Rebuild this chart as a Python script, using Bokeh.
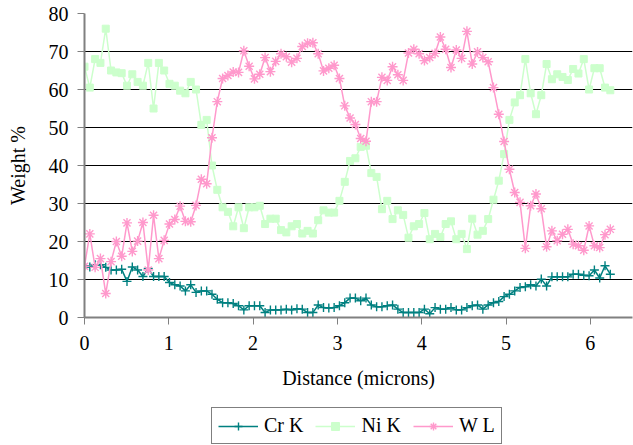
from bokeh.plotting import figure
from bokeh.models import Range1d, FixedTicker, Legend, LegendItem
from bokeh.layouts import column
from bokeh.embed import file_html
from bokeh.resources import INLINE

step = 0.063
n_points = 100
distance = [round(i * step, 3) for i in range(n_points)]

cr_k = [13.6, 13.3, 13.9, 13.9, 13.2, 12.5, 12.5, 12.7, 9.5, 13.3, 12.5, 10.8, 12.9, 10.8, 10.8, 10.8, 9.2, 8.6, 8.3, 7.0, 8.6,
        6.6, 7.0, 7.0, 6.1, 4.8, 3.9, 3.9, 3.7, 3.1, 2.0, 3.1, 3.1, 3.1, 1.3, 2.0, 2.0, 2.0, 2.2, 2.0, 2.3,
        2.2, 1.3, 1.3, 3.3, 2.6, 2.5, 2.6, 3.1, 3.9, 5.1, 5.1, 4.4, 5.1, 3.3, 2.8, 2.8, 3.1, 3.3, 2.2, 1.3,
        1.3, 1.3, 1.3, 2.2, 1.0, 2.6, 2.2, 2.2, 2.6, 2.0, 2.0, 2.6, 3.1, 3.3, 2.2, 3.3, 3.9, 4.2, 5.5, 6.1,
        7.0, 7.9, 8.1, 8.6, 8.3, 10.1, 8.3, 10.7, 10.7, 10.7, 10.7, 11.4, 11.4, 11.1, 11.0, 12.5, 10.4, 13.6, 11.4]

ni_k = [66, 60.5, 68, 67, 76, 65, 64.5, 64.3, 61, 64, 62, 61, 67, 55, 67, 65, 61.5, 61, 59.7, 59, 62,
        60, 50.7, 52, 40, 33.6, 29, 27.8, 24, 29, 23.5, 29, 29, 29.4, 24.6, 26, 26, 23, 22.4, 24, 24.6,
        22.1, 22.8, 22.1, 25.6, 28.2, 27.6, 27.6, 30.7, 35.7, 41.2, 41.9, 44.9, 45.2, 38, 37, 28.5, 30.7, 25.9, 28.2, 27,
        21, 24, 24.6, 27.5, 20.6, 22, 21.2, 24.6, 25.3, 20.6, 22, 18, 26, 21.8, 22.8, 25.9, 31, 36, 43, 52,
        56.6, 58.5, 68, 59, 53.5, 58.5, 66.7, 62.7, 64, 63.3, 62.5, 65.4, 64.2, 68, 60, 65.6, 65.6, 60.5, 59.8]

w_l = [13.5, 22, 13.2, 15.5, 6.3, 14.7, 20, 16.1, 24.9, 17.4, 20.1, 25, 12.5, 26.9, 15.5, 20.3, 24.6, 25.8, 29.3, 25.3, 25.2,
       29.5, 36.4, 35.2, 47.3, 56.8, 62.9, 63.7, 64.6, 64.5, 70.2, 66.1, 62.8, 64, 68.4, 64.7, 67.4, 69.4, 68.6, 67.2, 68.2,
       71.3, 72.2, 72.3, 69.4, 64.9, 65.6, 66.4, 62.9, 55.7, 52.5, 50.8, 47.1, 46.4, 56.8, 56.8, 63.2, 62.4, 66, 63.9, 62.4,
       69.6, 70.6, 69.4, 67.6, 68.4, 69.5, 73.8, 70.6, 65.8, 70.4, 68.2, 75.3, 66.7, 69.9, 68.4, 67.3, 60.5, 53.5, 46.3, 39,
       32.9, 30.3, 18.2, 29.4, 32.5, 28.6, 18.6, 22.8, 20.2, 21.9, 23.2, 19.3, 18.9, 17.7, 24.1, 18.9, 18.4, 21.8, 23.2]

series_names = ["Cr K", "Ni K", "W L"]
x_ticks = [0, 1, 2, 3, 4, 5, 6]
y_ticks = [0, 10, 20, 30, 40, 50, 60, 70, 80]

FONT = "Liberation Serif"
FS = "20px"
cr_col, ni_col, w_col = "#008080", "#CCFFCC", "#FF99CC"
series = [(cr_k, cr_col, "cross", 9), (ni_k, ni_col, "square", 7), (w_l, w_col, "asterisk", 10)]


def draw(fig, xs, ys, color, marker, size):
    ln = fig.line(xs, ys, line_color=color, line_width=1.5)
    if marker == "square":
        sc = fig.scatter(xs, ys, marker=marker, size=size, fill_color=color, line_color=color)
    else:
        sc = fig.scatter(xs, ys, marker=marker, size=size, line_color=color, line_width=1.4)
    return ln, sc


p = figure(width=633, height=400, x_range=Range1d(0, 6.5), y_range=Range1d(0, 80),
           output_backend="svg", toolbar_location=None,
           min_border_left=84, min_border_right=1, min_border_top=13, min_border_bottom=83)
p.outline_line_color = None
p.background_fill_color = "white"

p.xgrid.grid_line_color = None
p.ygrid.grid_line_color = "#000000"
p.ygrid.grid_line_width = 1
p.ygrid.ticker = FixedTicker(ticks=y_ticks)

for ax in (p.xaxis[0], p.yaxis[0]):
    ax.axis_line_color = "#808080"
    ax.axis_line_width = 2
    ax.major_tick_line_color = "#808080"
    ax.major_tick_line_width = 1
    ax.major_tick_out = 7
    ax.major_tick_in = 0
    ax.minor_tick_line_color = None
    ax.major_label_text_font = FONT
    ax.major_label_text_font_size = FS
    ax.major_label_text_color = "black"
    ax.axis_label_text_font = FONT
    ax.axis_label_text_font_size = FS
    ax.axis_label_text_font_style = "normal"
    ax.axis_label_text_color = "black"

p.xaxis.ticker = FixedTicker(ticks=x_ticks)
p.yaxis.ticker = FixedTicker(ticks=y_ticks)
p.xaxis.axis_label = "Distance (microns)"
p.yaxis.axis_label = "Weight %"
p.xaxis.major_label_standoff = 11
p.xaxis.axis_label_standoff = 14
p.yaxis.major_label_standoff = 9
p.yaxis.axis_label_standoff = 17

for ys, color, marker, size in series:
    draw(p, distance, ys, color, marker, size)

# Legend strip below the chart (its own renderers lie outside its view range)
q = figure(width=633, height=45, x_range=Range1d(0, 1), y_range=Range1d(-2, -1),
           output_backend="svg", toolbar_location=None,
           min_border_left=0, min_border_right=0, min_border_top=0, min_border_bottom=0)
q.outline_line_color = None
q.axis.visible = False
q.grid.visible = False

items = []
for name, (ys, color, marker, size) in zip(series_names, series):
    ln, sc = draw(q, distance, ys, color, marker, size)
    items.append(LegendItem(label=name, renderers=[ln, sc]))

legend = Legend(items=items, orientation="horizontal", location=(127, 1))
legend.label_text_font = FONT
legend.label_text_font_size = FS
legend.label_text_color = "black"
legend.border_line_color = "black"
legend.border_line_width = 1
legend.background_fill_color = "white"
legend.glyph_width = 40
legend.glyph_height = 20
legend.label_standoff = 6
legend.spacing = 12
legend.padding = 6
legend.margin = 0
q.add_layout(legend, "center")

layout = column(p, q, spacing=0)
open("out.html", "w").write(file_html(layout, INLINE))
